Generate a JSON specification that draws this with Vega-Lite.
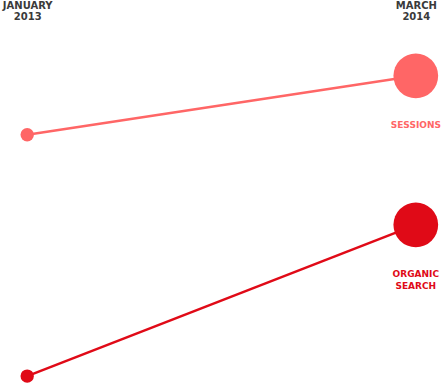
{
  "$schema": "https://vega.github.io/schema/vega-lite/v6.json",
  "width": 443,
  "height": 383,
  "autosize": "none",
  "padding": 0,
  "background": "white",
  "config": {"view": {"stroke": null}},
  "data": {
    "values": [
      {"metric": "SESSIONS", "period": "JANUARY 2013", "value": 64.8},
      {"metric": "SESSIONS", "period": "MARCH 2014", "value": 80.2},
      {"metric": "ORGANIC SEARCH", "period": "JANUARY 2013", "value": 1.8},
      {"metric": "ORGANIC SEARCH", "period": "MARCH 2014", "value": 41.3}
    ]
  },
  "encoding": {
    "x": {
      "field": "period",
      "type": "ordinal",
      "scale": {"type": "point", "padding": 0.07},
      "axis": {
        "orient": "top",
        "title": null,
        "domain": false,
        "ticks": false,
        "grid": false,
        "labelAngle": 0,
        "labelExpr": "split(datum.label, ' ')",
        "labelBaseline": "top",
        "labelPadding": 0,
        "labelFont": "DejaVu Sans",
        "labelFontWeight": "bold",
        "labelFontSize": 10,
        "labelLineHeight": 11,
        "labelColor": "#3a3a3a"
      }
    },
    "y": {"field": "value", "type": "quantitative", "scale": {"domain": [0, 100]}, "axis": null},
    "color": {
      "field": "metric",
      "type": "nominal",
      "scale": {"domain": ["SESSIONS", "ORGANIC SEARCH"], "range": ["#FF6666", "#E00A17"]},
      "legend": null
    }
  },
  "layer": [
    {"mark": {"type": "line", "strokeWidth": 2.5}, "encoding": {"detail": {"field": "metric"}}},
    {
      "mark": {"type": "circle", "opacity": 1},
      "encoding": {
        "size": {
          "field": "period",
          "type": "ordinal",
          "scale": {"type": "ordinal", "domain": ["JANUARY 2013", "MARCH 2014"], "range": [180, 2000]},
          "legend": null
        }
      }
    },
    {
      "transform": [{"filter": "datum.period == 'MARCH 2014'"}],
      "mark": {
        "type": "text",
        "align": "center",
        "baseline": "alphabetic",
        "dy": 52,
        "font": "DejaVu Sans",
        "fontWeight": "bold",
        "fontSize": 9,
        "lineBreak": " ",
        "lineHeight": 12
      },
      "encoding": {"text": {"field": "metric"}}
    }
  ]
}
